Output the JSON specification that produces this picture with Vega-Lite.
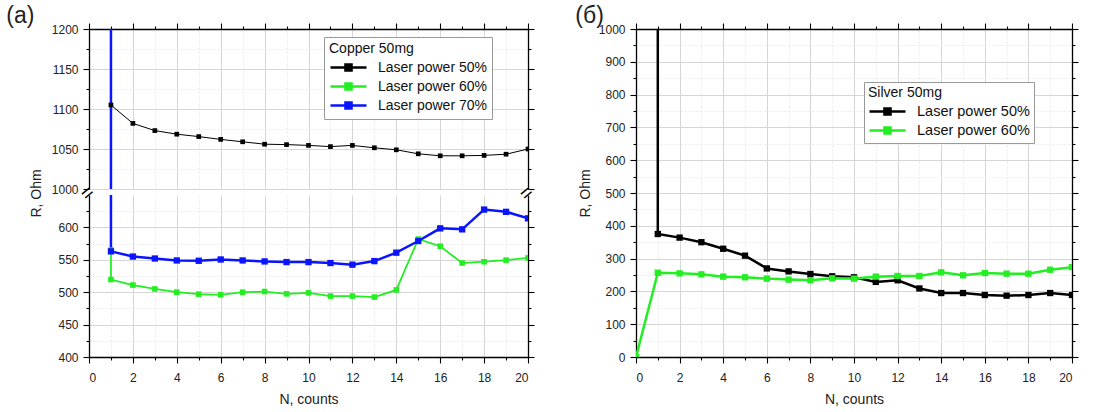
{
  "$schema": "https://vega.github.io/schema/vega-lite/v6.json",
  "padding": {"left": 6, "top": 5, "right": 0, "bottom": 0},
  "config": {
    "font": "Liberation Sans",
    "view": {"stroke": null},
    "axis": {"domainColor": "#000", "domainWidth": 1.3, "tickColor": "#000", "tickWidth": 1.1, "labelFont": "Liberation Sans Narrow, Liberation Sans", "labelFontSize": 12, "labelColor": "#222", "titleFontSize": 14, "titleFontWeight": "normal", "titleColor": "#222", "gridColor": "#d6d6d6", "format": "d"},
    "axisY": {"labelPadding": 5},
    "legend": {"titleFontWeight": "normal", "titleFontSize": 14, "titleColor": "#111", "labelFontSize": 14, "labelColor": "#111", "strokeColor": "#999", "fillColor": "white", "padding": 5, "symbolType": "M-1,0H3.5M0.87,-0.38H1.63V0.38H0.87Z", "symbolSize": 256, "symbolStrokeWidth": 2.5, "labelOffset": 30, "rowPadding": 1, "titlePadding": 2}
  },
  "datasets": {
    "copper": [
      {"series": "Laser power 50%", "i": 1, "N": 1, "R": 1105},
      {"series": "Laser power 50%", "i": 2, "N": 2, "R": 1082},
      {"series": "Laser power 50%", "i": 3, "N": 3, "R": 1073},
      {"series": "Laser power 50%", "i": 4, "N": 4, "R": 1068.5},
      {"series": "Laser power 50%", "i": 5, "N": 5, "R": 1065.5},
      {"series": "Laser power 50%", "i": 6, "N": 6, "R": 1062},
      {"series": "Laser power 50%", "i": 7, "N": 7, "R": 1059},
      {"series": "Laser power 50%", "i": 8, "N": 8, "R": 1056},
      {"series": "Laser power 50%", "i": 9, "N": 9, "R": 1055.5},
      {"series": "Laser power 50%", "i": 10, "N": 10, "R": 1054.5},
      {"series": "Laser power 50%", "i": 11, "N": 11, "R": 1053},
      {"series": "Laser power 50%", "i": 12, "N": 12, "R": 1054.5},
      {"series": "Laser power 50%", "i": 13, "N": 13, "R": 1051.5},
      {"series": "Laser power 50%", "i": 14, "N": 14, "R": 1049},
      {"series": "Laser power 50%", "i": 15, "N": 15, "R": 1044},
      {"series": "Laser power 50%", "i": 16, "N": 16, "R": 1041.5},
      {"series": "Laser power 50%", "i": 17, "N": 17, "R": 1041.5},
      {"series": "Laser power 50%", "i": 18, "N": 18, "R": 1042},
      {"series": "Laser power 50%", "i": 19, "N": 19, "R": 1043.5},
      {"series": "Laser power 50%", "i": 20, "N": 20, "R": 1050},
      {"series": "Laser power 60%", "i": 0, "N": 1, "R": 565},
      {"series": "Laser power 60%", "i": 1, "N": 1, "R": 519.5},
      {"series": "Laser power 60%", "i": 2, "N": 2, "R": 511},
      {"series": "Laser power 60%", "i": 3, "N": 3, "R": 505},
      {"series": "Laser power 60%", "i": 4, "N": 4, "R": 500},
      {"series": "Laser power 60%", "i": 5, "N": 5, "R": 497},
      {"series": "Laser power 60%", "i": 6, "N": 6, "R": 496},
      {"series": "Laser power 60%", "i": 7, "N": 7, "R": 500},
      {"series": "Laser power 60%", "i": 8, "N": 8, "R": 501},
      {"series": "Laser power 60%", "i": 9, "N": 9, "R": 497.5},
      {"series": "Laser power 60%", "i": 10, "N": 10, "R": 499},
      {"series": "Laser power 60%", "i": 11, "N": 11, "R": 494},
      {"series": "Laser power 60%", "i": 12, "N": 12, "R": 494},
      {"series": "Laser power 60%", "i": 13, "N": 13, "R": 492.5},
      {"series": "Laser power 60%", "i": 14, "N": 14, "R": 503.5},
      {"series": "Laser power 60%", "i": 15, "N": 15, "R": 582},
      {"series": "Laser power 60%", "i": 16, "N": 16, "R": 571},
      {"series": "Laser power 60%", "i": 17, "N": 17, "R": 545},
      {"series": "Laser power 60%", "i": 18, "N": 18, "R": 547},
      {"series": "Laser power 60%", "i": 19, "N": 19, "R": 549.5},
      {"series": "Laser power 60%", "i": 20, "N": 20, "R": 553},
      {"series": "Laser power 70%", "i": 0, "N": 1, "R": 5000},
      {"series": "Laser power 70%", "i": 1, "N": 1, "R": 563},
      {"series": "Laser power 70%", "i": 2, "N": 2, "R": 555},
      {"series": "Laser power 70%", "i": 3, "N": 3, "R": 552},
      {"series": "Laser power 70%", "i": 4, "N": 4, "R": 549},
      {"series": "Laser power 70%", "i": 5, "N": 5, "R": 548.5},
      {"series": "Laser power 70%", "i": 6, "N": 6, "R": 550.5},
      {"series": "Laser power 70%", "i": 7, "N": 7, "R": 549},
      {"series": "Laser power 70%", "i": 8, "N": 8, "R": 547.5},
      {"series": "Laser power 70%", "i": 9, "N": 9, "R": 546.5},
      {"series": "Laser power 70%", "i": 10, "N": 10, "R": 546.5},
      {"series": "Laser power 70%", "i": 11, "N": 11, "R": 545},
      {"series": "Laser power 70%", "i": 12, "N": 12, "R": 542.5},
      {"series": "Laser power 70%", "i": 13, "N": 13, "R": 548},
      {"series": "Laser power 70%", "i": 14, "N": 14, "R": 561},
      {"series": "Laser power 70%", "i": 15, "N": 15, "R": 579},
      {"series": "Laser power 70%", "i": 16, "N": 16, "R": 598.5},
      {"series": "Laser power 70%", "i": 17, "N": 17, "R": 597},
      {"series": "Laser power 70%", "i": 18, "N": 18, "R": 627.5},
      {"series": "Laser power 70%", "i": 19, "N": 19, "R": 624},
      {"series": "Laser power 70%", "i": 20, "N": 20, "R": 614}
    ],
    "silver": [
      {"series": "Laser power 50%", "i": 0, "N": 1, "R": 5000},
      {"series": "Laser power 50%", "i": 1, "N": 1, "R": 375},
      {"series": "Laser power 50%", "i": 2, "N": 2, "R": 364},
      {"series": "Laser power 50%", "i": 3, "N": 3, "R": 350},
      {"series": "Laser power 50%", "i": 4, "N": 4, "R": 330},
      {"series": "Laser power 50%", "i": 5, "N": 5, "R": 309},
      {"series": "Laser power 50%", "i": 6, "N": 6, "R": 270},
      {"series": "Laser power 50%", "i": 7, "N": 7, "R": 261},
      {"series": "Laser power 50%", "i": 8, "N": 8, "R": 253},
      {"series": "Laser power 50%", "i": 9, "N": 9, "R": 246},
      {"series": "Laser power 50%", "i": 10, "N": 10, "R": 243},
      {"series": "Laser power 50%", "i": 11, "N": 11, "R": 229},
      {"series": "Laser power 50%", "i": 12, "N": 12, "R": 234},
      {"series": "Laser power 50%", "i": 13, "N": 13, "R": 209},
      {"series": "Laser power 50%", "i": 14, "N": 14, "R": 195},
      {"series": "Laser power 50%", "i": 15, "N": 15, "R": 195},
      {"series": "Laser power 50%", "i": 16, "N": 16, "R": 189},
      {"series": "Laser power 50%", "i": 17, "N": 17, "R": 187},
      {"series": "Laser power 50%", "i": 18, "N": 18, "R": 189},
      {"series": "Laser power 50%", "i": 19, "N": 19, "R": 195},
      {"series": "Laser power 50%", "i": 20, "N": 20, "R": 189},
      {"series": "Laser power 60%", "i": 0, "N": 0, "R": 0},
      {"series": "Laser power 60%", "i": 1, "N": 1, "R": 257},
      {"series": "Laser power 60%", "i": 2, "N": 2, "R": 255},
      {"series": "Laser power 60%", "i": 3, "N": 3, "R": 252},
      {"series": "Laser power 60%", "i": 4, "N": 4, "R": 245},
      {"series": "Laser power 60%", "i": 5, "N": 5, "R": 243},
      {"series": "Laser power 60%", "i": 6, "N": 6, "R": 239},
      {"series": "Laser power 60%", "i": 7, "N": 7, "R": 236},
      {"series": "Laser power 60%", "i": 8, "N": 8, "R": 234},
      {"series": "Laser power 60%", "i": 9, "N": 9, "R": 240},
      {"series": "Laser power 60%", "i": 10, "N": 10, "R": 239},
      {"series": "Laser power 60%", "i": 11, "N": 11, "R": 245},
      {"series": "Laser power 60%", "i": 12, "N": 12, "R": 247},
      {"series": "Laser power 60%", "i": 13, "N": 13, "R": 247},
      {"series": "Laser power 60%", "i": 14, "N": 14, "R": 258},
      {"series": "Laser power 60%", "i": 15, "N": 15, "R": 249},
      {"series": "Laser power 60%", "i": 16, "N": 16, "R": 256},
      {"series": "Laser power 60%", "i": 17, "N": 17, "R": 254},
      {"series": "Laser power 60%", "i": 18, "N": 18, "R": 254},
      {"series": "Laser power 60%", "i": 19, "N": 19, "R": 266},
      {"series": "Laser power 60%", "i": 20, "N": 20, "R": 274}
    ],
    "breaks": [{"N": 0, "R": 650}, {"N": 20, "R": 650}]
  },
  "hconcat": [
    {
      "title": {"text": "(a)", "anchor": "start", "frame": "bounds", "fontSize": 23, "fontWeight": "normal", "color": "#222", "dx": -23, "dy": 8, "offset": 2},
      "spacing": 6,
      "bounds": "flush",
      "vconcat": [
        {
          "width": 439, "height": 160,
          "data": {"name": "copper"},
          "layer": [
            {
              "mark": {"type": "line", "clip": true},
              "encoding": {
                "x": {"field": "N", "type": "quantitative", "scale": {"domain": [0, 20], "nice": false},
                  "axis": {"orient": "top", "values": [0,1,2,3,4,5,6,7,8,9,10,11,12,13,14,15,16,17,18,19,20], "labels": false, "title": null,
                    "tickSize": {"condition": {"test": "datum.value % 2 === 0", "value": 6}, "value": 3},
                    "gridColor": {"condition": {"test": "datum.value % 2 === 0", "value": "#d6d6d6"}, "value": "#ebebeb"},
                    "gridDash": {"condition": {"test": "datum.value % 2 === 0", "value": []}, "value": [2, 2]}}},
                "y": {"field": "R", "type": "quantitative", "scale": {"domain": [1000, 1200], "nice": false, "zero": false},
                  "axis": {"orient": "left", "values": [1000,1025,1050,1075,1100,1125,1150,1175,1200], "title": "R, Ohm", "titleY": 164, "titlePadding": 8,
                    "labelExpr": "datum.value % 50 === 0 ? datum.label : ''",
                    "tickSize": {"condition": {"test": "datum.value % 50 === 0", "value": 6}, "value": 3},
                    "gridColor": {"condition": {"test": "datum.value % 50 === 0", "value": "#d6d6d6"}, "value": "#ebebeb"},
                    "gridDash": {"condition": {"test": "datum.value % 50 === 0", "value": []}, "value": [2, 2]}}},
                "color": {"field": "series", "type": "nominal",
                  "scale": {"domain": ["Laser power 50%", "Laser power 60%", "Laser power 70%"], "range": ["#000000", "#22ee22", "#0a14ff"]},
                  "legend": {"title": "Copper 50mg", "orient": "none", "legendX": 235, "legendY": 8}},
                "strokeWidth": {"field": "series", "type": "ordinal", "scale": {"domain": ["Laser power 50%", "Laser power 60%", "Laser power 70%"], "range": [1, 2.5, 2.5]}, "legend": null},
                "order": {"field": "i", "type": "quantitative"}
              }
            },
            {
              "mark": {"type": "point", "shape": "square", "filled": true, "opacity": 1, "clip": true},
              "encoding": {
                "x": {"field": "N", "type": "quantitative", "axis": null},
                "y": {"field": "R", "type": "quantitative",
                  "axis": {"orient": "right", "values": [1000,1025,1050,1075,1100,1125,1150,1175,1200], "labels": false, "title": null, "grid": false,
                    "tickSize": {"condition": {"test": "datum.value % 50 === 0", "value": 6}, "value": 3}}},
                "color": {"field": "series", "type": "nominal"},
                "size": {"field": "series", "type": "ordinal", "scale": {"domain": ["Laser power 50%", "Laser power 60%", "Laser power 70%"], "range": [22, 40, 40]}, "legend": null}
              }
            }
          ],
          "resolve": {"axis": {"x": "independent", "y": "independent"}}
        },
        {
          "width": 439, "height": 162,
          "layer": [
            {
              "data": {"name": "copper"},
              "mark": {"type": "line", "clip": true},
              "encoding": {
                "x": {"field": "N", "type": "quantitative", "scale": {"domain": [0, 20], "nice": false},
                  "axis": {"orient": "bottom", "values": [0,1,2,3,4,5,6,7,8,9,10,11,12,13,14,15,16,17,18,19,20], "title": "N, counts", "titlePadding": 9, "labelPadding": 9,
                    "labelExpr": "datum.value % 2 === 0 ? datum.label : ''",
                    "tickSize": {"condition": {"test": "datum.value % 2 === 0", "value": 6}, "value": 3},
                    "gridColor": {"condition": {"test": "datum.value % 2 === 0", "value": "#d6d6d6"}, "value": "#ebebeb"},
                    "gridDash": {"condition": {"test": "datum.value % 2 === 0", "value": []}, "value": [2, 2]}}},
                "y": {"field": "R", "type": "quantitative", "scale": {"domain": [400, 650], "nice": false, "zero": false},
                  "axis": {"orient": "left", "values": [400,425,450,475,500,525,550,575,600,625], "title": null,
                    "labelExpr": "datum.value % 50 === 0 ? datum.label : ''",
                    "tickSize": {"condition": {"test": "datum.value % 50 === 0", "value": 6}, "value": 3},
                    "gridColor": {"condition": {"test": "datum.value % 50 === 0", "value": "#d6d6d6"}, "value": "#ebebeb"},
                    "gridDash": {"condition": {"test": "datum.value % 50 === 0", "value": []}, "value": [2, 2]}}},
                "color": {"field": "series", "type": "nominal"},
                "strokeWidth": {"field": "series", "type": "ordinal", "legend": null},
                "order": {"field": "i", "type": "quantitative"}
              }
            },
            {
              "data": {"name": "copper"},
              "mark": {"type": "point", "shape": "square", "filled": true, "opacity": 1, "clip": true},
              "encoding": {
                "x": {"field": "N", "type": "quantitative", "axis": null},
                "y": {"field": "R", "type": "quantitative",
                  "axis": {"orient": "right", "values": [400,425,450,475,500,525,550,575,600,625], "labels": false, "title": null, "grid": false,
                    "tickSize": {"condition": {"test": "datum.value % 50 === 0", "value": 6}, "value": 3}}},
                "color": {"field": "series", "type": "nominal"},
                "size": {"field": "series", "type": "ordinal", "legend": null}
              }
            },
            {
              "data": {"name": "breaks"},
              "mark": {"type": "text", "text": "=", "fontSize": 20, "angle": -40, "dy": -2, "color": "#000"},
              "encoding": {
                "x": {"field": "N", "type": "quantitative", "axis": null},
                "y": {"field": "R", "type": "quantitative", "axis": null}
              }
            }
          ],
          "resolve": {"axis": {"x": "independent", "y": "independent"}}
        }
      ]
    },
    {
      "title": {"text": "(б)", "anchor": "start", "frame": "bounds", "fontSize": 23, "fontWeight": "normal", "color": "#222", "dx": -3, "dy": 8, "offset": 2},
      "width": 436, "height": 328,
      "data": {"name": "silver"},
      "layer": [
        {
          "mark": {"type": "line", "clip": true, "strokeWidth": 2.5},
          "encoding": {
            "x": {"field": "N", "type": "quantitative", "scale": {"domain": [0, 20], "nice": false},
              "axis": {"orient": "bottom", "values": [0,1,2,3,4,5,6,7,8,9,10,11,12,13,14,15,16,17,18,19,20], "title": "N, counts", "titlePadding": 9, "labelPadding": 9,
                "labelExpr": "datum.value % 2 === 0 ? datum.label : ''",
                "tickSize": {"condition": {"test": "datum.value % 2 === 0", "value": 6}, "value": 3},
                "gridColor": {"condition": {"test": "datum.value % 2 === 0", "value": "#d6d6d6"}, "value": "#ebebeb"},
                "gridDash": {"condition": {"test": "datum.value % 2 === 0", "value": []}, "value": [2, 2]}}},
            "y": {"field": "R", "type": "quantitative", "scale": {"domain": [0, 1000], "nice": false},
              "axis": {"orient": "left", "values": [0,50,100,150,200,250,300,350,400,450,500,550,600,650,700,750,800,850,900,950,1000], "title": "R, Ohm", "titlePadding": 6,
                "labelExpr": "datum.value % 100 === 0 ? datum.label : ''",
                "tickSize": {"condition": {"test": "datum.value % 100 === 0", "value": 6}, "value": 3},
                "gridColor": {"condition": {"test": "datum.value % 100 === 0", "value": "#d6d6d6"}, "value": "#ebebeb"},
                "gridDash": {"condition": {"test": "datum.value % 100 === 0", "value": []}, "value": [2, 2]}}},
            "color": {"field": "series", "type": "nominal",
              "scale": {"domain": ["Laser power 50%", "Laser power 60%"], "range": ["#000000", "#22ee22"]},
              "legend": {"title": "Silver 50mg", "orient": "none", "legendX": 228, "legendY": 53, "labelFontSize": 14.5, "padding": 4}},
            "order": {"field": "i", "type": "quantitative"}
          }
        },
        {
          "mark": {"type": "point", "shape": "square", "filled": true, "opacity": 1, "clip": true, "size": 40},
          "encoding": {
            "x": {"field": "N", "type": "quantitative",
              "axis": {"orient": "top", "values": [0,1,2,3,4,5,6,7,8,9,10,11,12,13,14,15,16,17,18,19,20], "labels": false, "title": null, "grid": false,
                "tickSize": {"condition": {"test": "datum.value % 2 === 0", "value": 6}, "value": 3}}},
            "y": {"field": "R", "type": "quantitative",
              "axis": {"orient": "right", "values": [0,50,100,150,200,250,300,350,400,450,500,550,600,650,700,750,800,850,900,950,1000], "labels": false, "title": null, "grid": false,
                "tickSize": {"condition": {"test": "datum.value % 100 === 0", "value": 6}, "value": 3}}},
            "color": {"field": "series", "type": "nominal"}
          }
        }
      ],
      "resolve": {"axis": {"x": "independent", "y": "independent"}}
    }
  ],
  "spacing": 37,
  "resolve": {"scale": {"color": "independent"}, "legend": {"color": "independent"}}
}
